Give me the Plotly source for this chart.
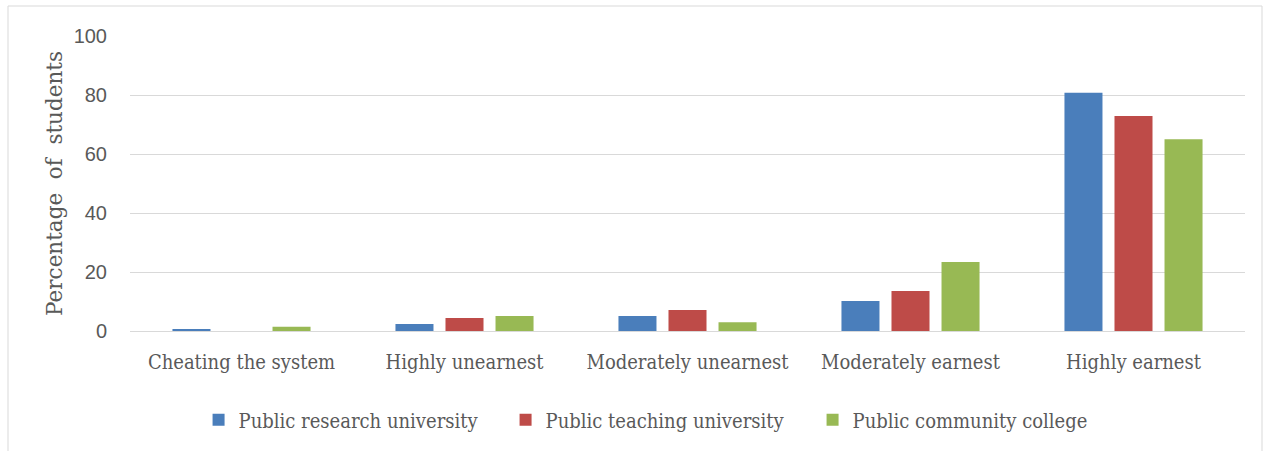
import plotly.graph_objects as go

categories = ["Cheating the system", "Highly unearnest", "Moderately unearnest",
              "Moderately earnest", "Highly earnest"]
research = [0.7, 2.4, 5.1, 10.2, 80.8]
teaching = [0.0, 4.4, 7.1, 13.6, 72.9]
community = [1.4, 5.1, 3.0, 23.4, 65.0]
series_names = ["Public research university", "Public teaching university",
                "Public community college"]
colors = ["#4a7ebb", "#be4b48", "#98b954"]
y_ticks = [0, 20, 40, 60, 80, 100]

SERIF = "DejaVu Serif Condensed"
SANS = "Liberation Sans"
GREY = "#595959"
fig = go.Figure()
for name, vals, col in zip(series_names, [research, teaching, community], colors):
    fig.add_trace(go.Bar(x=categories, y=vals, name=name, marker_color=col,
                         marker_line_width=0))

L, R, T, B = 130, 25, 36, 120
W, H = 1270, 451
pw, ph = W - L - R, H - T - B

fig.update_layout(
    width=W, height=H,
    margin=dict(l=L, r=R, t=T, b=B, pad=0),
    paper_bgcolor="white", plot_bgcolor="white",
    barmode="group", bargap=0.327, bargroupgap=0.24,
    font=dict(family=SERIF, color=GREY, size=18),
    showlegend=True,
    legend=dict(orientation="h", x=0.4745, xanchor="center", y=-0.235, yanchor="top",
                font=dict(family=SERIF, size=20, color=GREY),
                entrywidth=262, entrywidthmode="pixels",
                itemwidth=30, tracegroupgap=0, traceorder="normal"),
    xaxis=dict(showgrid=False, showline=True, linecolor="#d9d9d9", linewidth=1,
               ticks="", ticklabelstandoff=13,
               tickfont=dict(family=SERIF, size=20, color=GREY),
               fixedrange=True),
    yaxis=dict(range=[0, 100], tickvals=y_ticks, showgrid=True, gridcolor="#d9d9d9",
               zeroline=False, ticks="", ticklabelstandoff=22,
               tickfont=dict(family=SANS, size=20, color=GREY),
               title=dict(text="Percentage  of  students", standoff=5,
                          font=dict(family="DejaVu Serif", size=21.5, color=GREY)),
               fixedrange=True),
)

x0 = (8 - L) / pw
x1 = (1262 - L) / pw
y1 = (H - B - 6) / ph
y0 = (H - B - 460) / ph
fig.add_shape(type="rect", xref="paper", yref="paper", x0=x0, x1=x1, y0=y0, y1=y1,
              line=dict(color="#d9d9d9", width=1), layer="below")

fig.write_html("out.html", config={"displayModeBar": False},
               post_script="document.body.style.margin='0';")
